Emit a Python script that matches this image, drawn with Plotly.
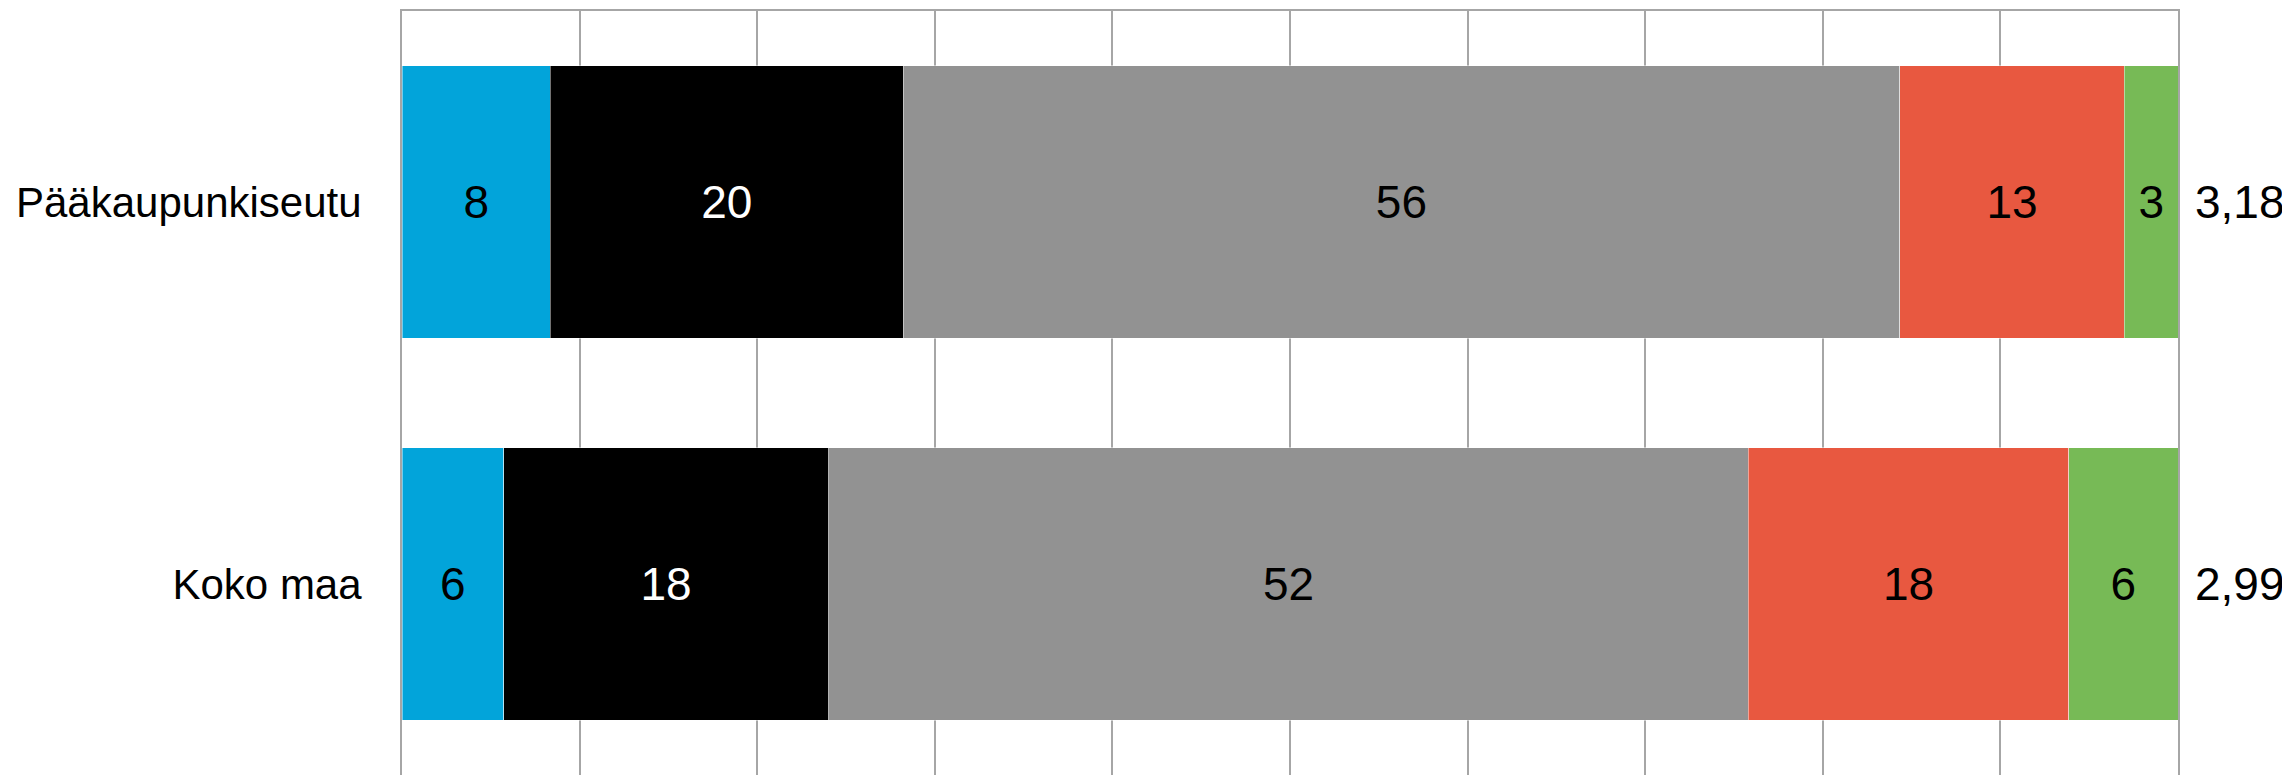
import plotly.graph_objects as go

categories = ["Pääkaupunkiseutu", "Koko maa"]
series_names = ["Luokka 1", "Luokka 2", "Luokka 3", "Luokka 4", "Luokka 5"]
series_values = [
    [8.36, 5.72],
    [19.85, 18.30],
    [56.13, 51.79],
    [12.64, 18.03],
    [3.02, 6.17],
]
series_labels = [
    ["8", "6"],
    ["20", "18"],
    ["56", "52"],
    ["13", "18"],
    ["3", "6"],
]
averages = ["3,18", "2,99"]
x_ticks = [0, 10, 20, 30, 40, 50, 60, 70, 80, 90, 100]

colors = ["#02A4DA", "#000000", "#929292", "#E85840", "#77BA56"]
text_colors = ["#000000", "#FFFFFF", "#000000", "#000000", "#000000"]

FONT = "Liberation Sans, Arial, sans-serif"
GRID = "#A6A6A6"

fig = go.Figure()
for name, vals, labs, col, tcol in zip(series_names, series_values, series_labels, colors, text_colors):
    fig.add_trace(go.Bar(
        y=categories, x=vals, name=name, orientation="h",
        marker=dict(color=col, line=dict(color="rgba(255,255,255,0.45)", width=1)),
        text=labs, textposition="inside", insidetextanchor="middle", textangle=0,
        textfont=dict(family=FONT, size=46, color=tcol),
        hoverinfo="skip",
    ))

for cat, avg in zip(categories, averages):
    fig.add_annotation(
        x=100, y=cat, xref="x", yref="y", text=avg, showarrow=False,
        xanchor="left", yanchor="middle", xshift=15,
        font=dict(family=FONT, size=46, color="#000000"),
    )

fig.update_layout(
    width=2282, height=767,
    barmode="stack", bargap=0.286,
    showlegend=False,
    plot_bgcolor="white", paper_bgcolor="white",
    margin=dict(l=394, r=112, t=3, b=0),
    xaxis=dict(
        range=[0, 100], tickvals=x_ticks, showticklabels=False,
        showgrid=True, gridcolor=GRID, gridwidth=2,
        zeroline=False, side="top",
        showline=True, linecolor=GRID, linewidth=2, mirror=False,
        fixedrange=True,
    ),
    yaxis=dict(
        autorange="reversed", showgrid=False, zeroline=False,
        showline=True, linecolor=GRID, linewidth=2, mirror=True,
        ticks="", ticklabelstandoff=30,
        tickfont=dict(family=FONT, size=42, color="#000000"),
        fixedrange=True,
    ),
)

fig.write_html("out.html")
